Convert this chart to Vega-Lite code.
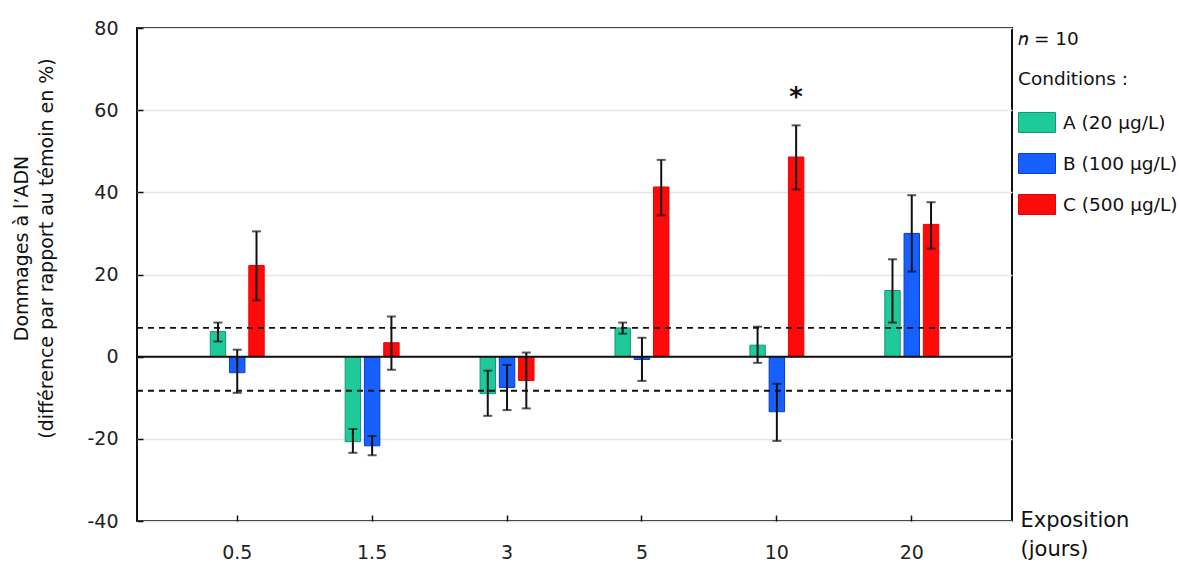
{
  "$schema": "https://vega.github.io/schema/vega-lite/v6.json",
  "width": 875,
  "height": 493,
  "autosize": "none",
  "padding": {"left": 137, "top": 28, "right": 168, "bottom": 41},
  "background": "white",
  "config": {
    "font": "DejaVu Sans",
    "view": {"stroke": "#111111", "strokeWidth": 2},
    "axis": {"labelFont": "DejaVu Sans", "titleFont": "DejaVu Sans", "labelColor": "#222222", "titleColor": "#111111", "titleFontWeight": "normal"}
  },
  "data": {"values": [
    {"jours": "0.5", "cond": "A (20 µg/L)", "v": 6.1, "lo": 3.7, "hi": 8.3},
    {"jours": "0.5", "cond": "B (100 µg/L)", "v": -3.9, "lo": -8.8, "hi": 1.7},
    {"jours": "0.5", "cond": "C (500 µg/L)", "v": 22.2, "lo": 13.7, "hi": 30.5},
    {"jours": "1.5", "cond": "A (20 µg/L)", "v": -20.7, "lo": -23.4, "hi": -17.6},
    {"jours": "1.5", "cond": "B (100 µg/L)", "v": -21.7, "lo": -24.0, "hi": -19.3},
    {"jours": "1.5", "cond": "C (500 µg/L)", "v": 3.4, "lo": -3.2, "hi": 9.8},
    {"jours": "3", "cond": "A (20 µg/L)", "v": -9.0, "lo": -14.4, "hi": -3.4},
    {"jours": "3", "cond": "B (100 µg/L)", "v": -7.5, "lo": -13.0, "hi": -2.0},
    {"jours": "3", "cond": "C (500 µg/L)", "v": -5.8, "lo": -12.6, "hi": 1.0},
    {"jours": "5", "cond": "A (20 µg/L)", "v": 7.0, "lo": 5.6, "hi": 8.3},
    {"jours": "5", "cond": "B (100 µg/L)", "v": -0.7, "lo": -5.9, "hi": 4.6},
    {"jours": "5", "cond": "C (500 µg/L)", "v": 41.3, "lo": 34.4, "hi": 47.9},
    {"jours": "10", "cond": "A (20 µg/L)", "v": 2.8, "lo": -1.5, "hi": 7.3},
    {"jours": "10", "cond": "B (100 µg/L)", "v": -13.4, "lo": -20.5, "hi": -6.6},
    {"jours": "10", "cond": "C (500 µg/L)", "v": 48.6, "lo": 40.7, "hi": 56.3},
    {"jours": "20", "cond": "A (20 µg/L)", "v": 16.1, "lo": 8.3, "hi": 23.7},
    {"jours": "20", "cond": "B (100 µg/L)", "v": 30.0, "lo": 20.7, "hi": 39.3},
    {"jours": "20", "cond": "C (500 µg/L)", "v": 32.2, "lo": 26.3, "hi": 37.6}
  ]},
  "encoding": {
    "x": {"field": "jours", "type": "ordinal", "sort": ["0.5", "1.5", "3", "5", "10", "20"],
      "scale": {"paddingInner": 0.6, "paddingOuter": 0.543},
      "axis": {"labelAngle": 0, "labelFontSize": 19, "labelPadding": 22, "offset": -6, "tickSize": 6, "tickWidth": 1.5, "tickColor": "#111111", "domain": false,
        "title": ["Exposition", "(jours)"], "titleFontSize": 21, "titleAnchor": "start", "titleAlign": "left", "titleBaseline": "middle", "titleX": 883, "titleY": 5, "titleLineHeight": 29}},
    "xOffset": {"field": "cond", "type": "nominal", "scale": {"paddingInner": 0.2, "paddingOuter": 0}}
  },
  "layer": [
    {
      "mark": {"type": "bar", "strokeWidth": 1},
      "encoding": {
        "y": {"field": "v", "type": "quantitative",
          "scale": {"domain": [-40, 80], "nice": false, "zero": false},
          "axis": {"values": [-40, -20, 0, 20, 40, 60, 80], "labelExpr": "toString(datum.value)", "labelFontSize": 19, "labelPadding": 19, "offset": -6, "tickSize": 6, "tickWidth": 1.5, "tickColor": "#111111", "domain": false,
            "grid": true, "gridColor": "#e6e6e6", "gridWidth": 1.5,
            "title": ["Dommages à l’ADN", "(différence par rapport au témoin en %)"], "titleFontSize": 19, "titleLineHeight": 25, "titlePadding": 30, "titleY": 220}},
        "color": {"field": "cond", "type": "nominal",
          "scale": {"domain": ["A (20 µg/L)", "B (100 µg/L)", "C (500 µg/L)"], "range": ["#1ec99a", "#1560ff", "#ff0a0a"]},
          "legend": {"orient": "none", "legendX": 881, "legendY": 2, "title": ["𝑛 = 10", "Conditions :"], "titleFontSize": 18.5, "titleFontWeight": "normal", "titleLineHeight": 40, "titlePadding": 15, "titleColor": "#111111",
            "labelFontSize": 18.5, "labelColor": "#111111", "labelOffset": 7, "symbolType": "M-1,-0.54H1V0.54H-1Z", "symbolSize": 1369, "symbolStrokeWidth": 1, "symbolStrokeColor": "#5a8a7a", "symbolOpacity": 1, "rowPadding": 10, "padding": 0}},
        "stroke": {"field": "cond", "type": "nominal",
          "scale": {"domain": ["A (20 µg/L)", "B (100 µg/L)", "C (500 µg/L)"], "range": ["#15967a", "#0a3ad0", "#ee0000"]},
          "legend": null}
      }
    },
    {
      "mark": {"type": "rule", "color": "#111111", "strokeWidth": 2},
      "encoding": {"y": {"field": "lo", "type": "quantitative"}, "y2": {"field": "hi"}}
    },
    {
      "mark": {"type": "tick", "color": "#111111", "thickness": 2, "size": 9},
      "encoding": {"y": {"field": "lo", "type": "quantitative"}}
    },
    {
      "mark": {"type": "tick", "color": "#111111", "thickness": 2, "size": 9},
      "encoding": {"y": {"field": "hi", "type": "quantitative"}}
    },
    {
      "data": {"values": [{"ref": 7}, {"ref": -8.3}]},
      "mark": {"type": "rule", "color": "#111111", "strokeWidth": 1.8, "strokeDash": [6, 5]},
      "encoding": {"y": {"field": "ref", "type": "quantitative"}, "x": null, "xOffset": null}
    },
    {
      "data": {"values": [{"z": 0}]},
      "mark": {"type": "rule", "color": "#111111", "strokeWidth": 2},
      "encoding": {"y": {"field": "z", "type": "quantitative"}, "x": null, "xOffset": null}
    },
    {
      "data": {"values": [{"jours": "10", "cond": "C (500 µg/L)", "pos": 64, "label": "*"}]},
      "mark": {"type": "text", "fontSize": 26, "fontWeight": "bold", "color": "#111111", "baseline": "middle", "dy": 4},
      "encoding": {"y": {"field": "pos", "type": "quantitative"}, "text": {"field": "label"}}
    }
  ]
}
